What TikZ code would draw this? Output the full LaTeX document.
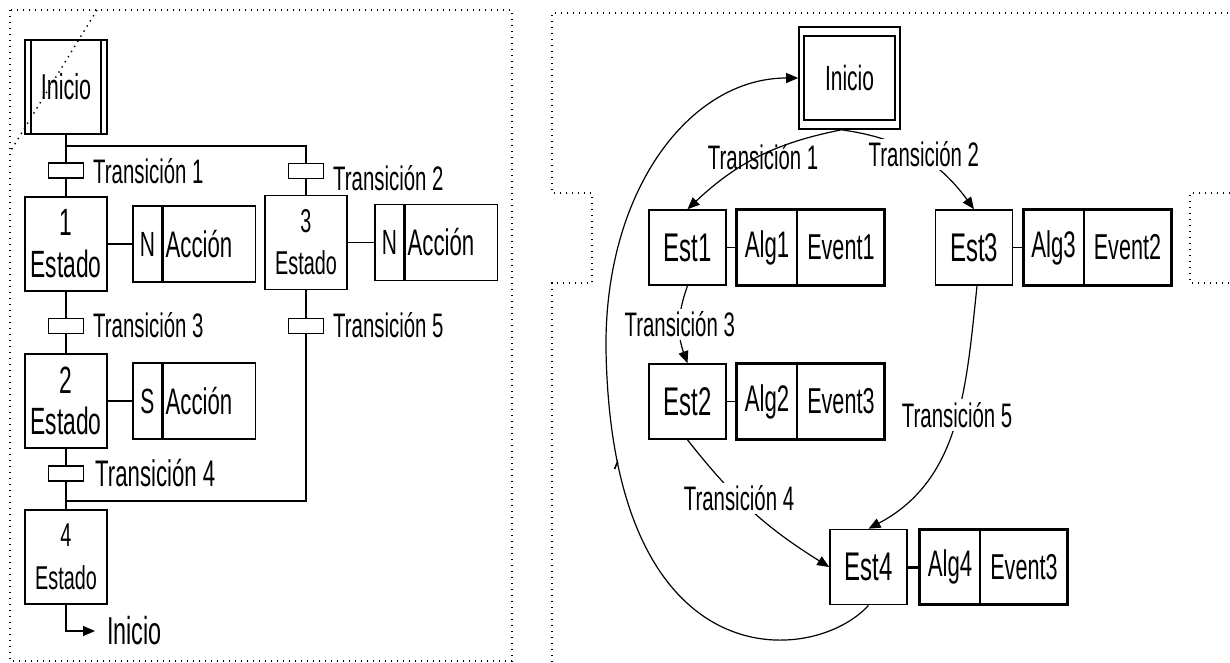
\documentclass[tikz,border=0pt]{standalone}
\usepackage{fontspec}
\setmainfont{Liberation Sans}[FakeStretch=0.6]
\usetikzlibrary{arrows.meta,decorations.markings}

\tikzset{
  marco/.style={line width=1.4pt, dash pattern=on 1.4pt off 4.6pt},
  linea/.style={line width=1.6pt},
  etapa/.style={draw, linea, minimum width=82pt, minimum height=94pt, align=center, inner sep=0pt},
  trans/.style={draw, linea, minimum width=35pt, minimum height=15pt, inner sep=0pt},
  etiq/.style={anchor=west, inner sep=0pt, font=\fontsize{34}{38}\selectfont},
  calif/.style={draw, linea, minimum width=29pt, minimum height=76pt, inner sep=0pt, font=\fontsize{35}{38}\selectfont},
  accion/.style={draw, linea, text width=88pt, minimum height=76pt, inner sep=2pt, align=left, font=\fontsize{37}{40}\selectfont},
  est/.style={draw, line width=1.6pt, minimum width=77pt, minimum height=75pt, inner sep=0pt, font=\fontsize{40}{44}\selectfont},
  alg/.style={minimum width=60pt, minimum height=75pt, inner sep=0pt, font=\fontsize{37}{40}\selectfont},
  evento/.style={minimum width=87pt, minimum height=75pt, inner sep=0pt, font=\fontsize{36}{40}\selectfont},
  flecha/.style={-{Triangle[length=12pt,width=10pt]}, line width=1.2pt},
  rotulo/.style={font=\fontsize{34}{38}\selectfont, inner sep=3pt},
}

\begin{document}
\begin{tikzpicture}[x=1pt, y=-1pt]
\useasboundingbox (0,0) rectangle (1230,662);

% Grafcet
\draw[marco] (10,10) rectangle (512,661);
\draw[marco] (97,10) -- (10,152);

\node[etapa, font=\fontsize{36}{40}\selectfont] (ini) at (66,87) {Inicio};
\draw[linea] ([xshift=7pt]ini.north west) -- ([xshift=7pt]ini.south west);
\draw[linea] ([xshift=-7pt]ini.north east) -- ([xshift=-7pt]ini.south east);

\node[trans] (t1) at (66,170.5) {};
\node[trans] (t2) at (306,171) {};
\node[trans] (t3) at (66,326) {};
\node[trans] (t5) at (306,326) {};
\node[trans] (t4) at (66,473.5) {};

\node[etiq] (lt1) at (93,171) {Transición 1};
\node[etiq] (lt2) at (333,178) {Transición 2};
\node[etiq] (lt3) at (93,325) {Transición 3};
\node[etiq] (lt5) at (333,325) {Transición 5};
\node[etiq, font=\fontsize{37}{40}\selectfont] (lt4) at (95,473.5) {Transición 4};

\node[etapa, font=\fontsize{38}{42}\selectfont] (e1) at (66,244) {1\\Estado};
\node[etapa, font=\fontsize{33}{42}\selectfont] (e3) at (306,242.5) {3\\Estado};
\node[etapa, font=\fontsize{38}{41}\selectfont] (e2) at (66,401) {2\\Estado};
\node[etapa, font=\fontsize{33}{43}\selectfont] (e4) at (66,557) {4\\Estado};

\node[calif] (q1) at (147.5,244) {N};
\node[accion, anchor=west] (a1) at (q1.east) {Acción};
\node[calif] (q3) at (389.5,242.5) {N};
\node[accion, anchor=west] (a3) at (q3.east) {Acción};
\node[calif] (q2) at (147.5,401) {S};
\node[accion, anchor=west] (a2) at (q2.east) {Acción};

\draw[linea] (e1) -- (q1);
\draw[linea] (e3) -- (q3);
\draw[linea] (e2) -- (q2);

\coordinate (div) at (306,146);
\coordinate (conv) at (306,501);
\draw[linea] (ini) -- (t1) -- (e1);
\draw[linea] (ini.south |- div) -- (div) -- (t2) -- (e3);
\draw[linea] (e1) -- (t3) -- (e2);
\draw[linea] (e2) -- (t4) -- (e4);
\draw[linea] (e3) -- (t5) -- (conv) -- (e4 |- conv);

\node[rotulo, anchor=west, inner xsep=12pt, inner ysep=0pt, font=\fontsize{39}{42}\selectfont] (fin) at (95,631) {Inicio};
\draw[flecha] (e4.south) |- (fin.west);

% Maquina de estados
\draw[marco] (552,662) -- (552,283) -- (592,283) -- (592,193) -- (552,193) -- (552,13) -- (1230,13);
\draw[marco] (1230,193) -- (1190,193) -- (1190,283) -- (1230,283);

\node[draw, line width=1.6pt, minimum width=101pt, minimum height=102pt, font=\fontsize{35}{38}\selectfont] (ini2) at (849.5,78) {Inicio};
\draw[line width=1.6pt] ([shift={(6,10)}]ini2.north west) rectangle ([shift={(-6,-10)}]ini2.south east);

\foreach \n/\pos/\ev/\lw/\gap in {1/{687.5,247.5}/Event1/1.6/10, 2/{687.5,401.5}/Event3/1.6/10,
                                  3/{974,247.5}/Event2/1.6/10, 4/{868.5,567}/Event3/3/12} {
  \node[est] (est\n) at (\pos) {Est\n};
  \node[alg, anchor=west] (alg\n) at ([xshift=\gap pt]est\n.east) {Alg\n};
  \node[evento, anchor=west] (ev\n) at (alg\n.east) {\ev};
  \draw[line width=3pt] (alg\n.north west) rectangle (ev\n.south east);
  \draw[line width=1.6pt] (alg\n.north east) -- (alg\n.south east);
  \draw[line width=\lw pt] (est\n) -- (alg\n);
}

\draw[flecha] ([xshift=-8pt]ini2.south) to[bend right=16]
  node[rotulo, pos=0.5, xshift=5pt] {Transición 1} (est1.north);
\draw[flecha] ([xshift=-8pt]ini2.south) to[bend left=23]
  node[rotulo, fill=white, pos=0.5, xshift=7pt] {Transición 2} (est3.north);
\draw[flecha] (est1.south) to[bend right=20]
  node[rotulo, fill=white, pos=0.5] {Transición 3} (est2.north);
\draw[flecha] (est2.south) to[bend right=10]
  node[rotulo, fill=white, pos=0.4] {Transición 4} (est4.west);
\draw[flecha] ([xshift=3pt]est3.south) to[out=-96, in=28]
  node[rotulo, fill=white, pos=0.45] {Transición 5} (est4.north);

\coordinate (vuelta) at (606,350);
\draw[flecha, postaction={decorate, decoration={markings,
    mark=at position 0.43 with {\arrow{Straight Barb[harpoon, length=6pt, width=8pt, line width=1.6pt]}}}}]
  (est4.south) .. controls (815,665) and (612,685) .. (vuelta)
  .. controls (604,190) and (690,78) .. (ini2.west);

\end{tikzpicture}
\end{document}
